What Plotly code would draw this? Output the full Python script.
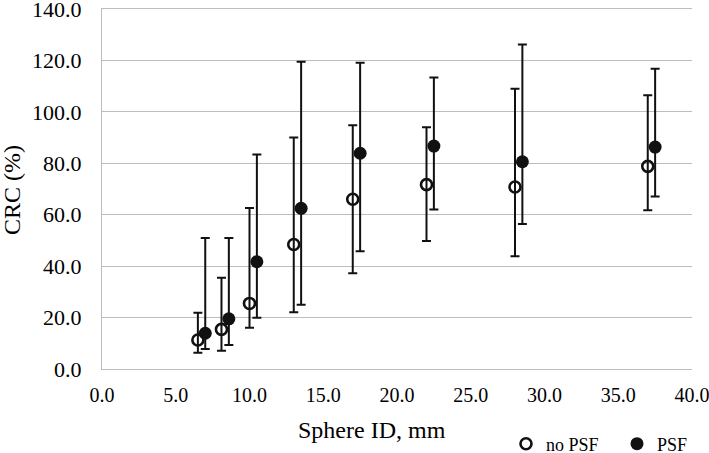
import plotly.graph_objects as go

# Sphere diameters (mm)
x_nopsf = [6.5, 8.1, 10.0, 13.0, 17.0, 22.0, 28.0, 37.0]
x_psf = [7.0, 8.6, 10.5, 13.5, 17.5, 22.5, 28.5, 37.5]

# CRC (%) mean values
crc_nopsf = [11.3, 15.4, 25.5, 48.4, 66.0, 71.7, 70.8, 78.8]
crc_psf = [13.9, 19.5, 41.7, 62.5, 83.9, 86.7, 80.6, 86.3]

# Error-bar extents (top and bottom of each bar)
upper_nopsf = [21.9, 35.5, 62.6, 90.0, 94.8, 94.0, 109.0, 106.5]
lower_nopsf = [6.3, 7.1, 16.0, 22.1, 37.2, 49.8, 43.8, 61.7]
upper_psf = [50.9, 50.9, 83.4, 119.5, 119.1, 113.4, 126.2, 116.8]
lower_psf = [7.8, 9.3, 19.9, 25.0, 45.8, 62.0, 56.4, 67.1]

FONT = "Liberation Serif"
GRID = "#bdbdbd"
INK = "#111111"
BLACK = "#000000"

# layout geometry (figure pixels)
ML, MR, MT, MB = 102, 17, 9, 84
PW, PH = 709 - ML - MR, 453 - MT - MB
BOTTOM = MT + PH

def err(vals, up, lo):
    return dict(
        type="data", symmetric=False,
        array=[u - v for u, v in zip(up, vals)],
        arrayminus=[v - l for v, l in zip(vals, lo)],
        color=INK, thickness=2, width=4.5,
    )

fig = go.Figure()
fig.add_trace(go.Scatter(
    x=x_nopsf, y=crc_nopsf, mode="markers", name="no PSF",
    error_y=err(crc_nopsf, upper_nopsf, lower_nopsf),
    marker=dict(symbol="circle-open", size=11, color=INK, line=dict(width=2.6, color=INK)),
))
fig.add_trace(go.Scatter(
    x=x_psf, y=crc_psf, mode="markers", name="PSF",
    error_y=err(crc_psf, upper_psf, lower_psf),
    marker=dict(symbol="circle", size=13, color=INK),
))

fig.update_layout(
    template="none",
    width=709, height=453,
    margin=dict(l=ML, r=MR, t=MT, b=MB, autoexpand=False),
    plot_bgcolor="white", paper_bgcolor="white",
    font=dict(family=FONT, color=BLACK, size=18),
    showlegend=True,
    legend=dict(
        orientation="h", x=(506 - ML) / PW, xanchor="left",
        y=-(444 - BOTTOM) / PH, yanchor="middle",
        font=dict(family=FONT, size=18, color=BLACK),
        entrywidth=66, bgcolor="rgba(0,0,0,0)", itemwidth=30,
    ),
    xaxis=dict(
        range=[0, 40], dtick=5, tickformat=".1f", showgrid=False, zeroline=False,
        showline=True, mirror=True, linecolor=GRID, linewidth=1.3, ticks="", automargin=False,
        tickfont=dict(family=FONT, size=20, color=BLACK), ticklabelstandoff=8,
        ticklabeloverflow="allow",
    ),
    yaxis=dict(
        range=[0, 140], tick0=0, dtick=20, tickformat=".1f", showgrid=True, gridcolor=GRID,
        gridwidth=1.3, zeroline=False, showline=True, linecolor=GRID, linewidth=1.3,
        ticks="", tickfont=dict(family=FONT, size=22, color=BLACK), ticklabelstandoff=15,
        automargin=False, ticklabeloverflow="allow",
    ),
    annotations=[
        dict(
            text="Sphere ID, mm", xref="paper", yref="paper",
            x=(372 - ML) / PW, y=-(430 - BOTTOM) / PH, xanchor="center", yanchor="middle",
            showarrow=False, font=dict(family=FONT, size=24, color=BLACK),
        ),
        dict(
            text="CRC (%)", xref="paper", yref="paper", textangle=-90,
            x=(12 - ML) / PW, y=(BOTTOM - 190) / PH, xanchor="center", yanchor="middle",
            showarrow=False, font=dict(family=FONT, size=24, color=BLACK),
        ),
    ],
)

fig.write_html(
    "out.html",
    config={"displayModeBar": False},
    post_script="document.body.style.margin='0';",
)
